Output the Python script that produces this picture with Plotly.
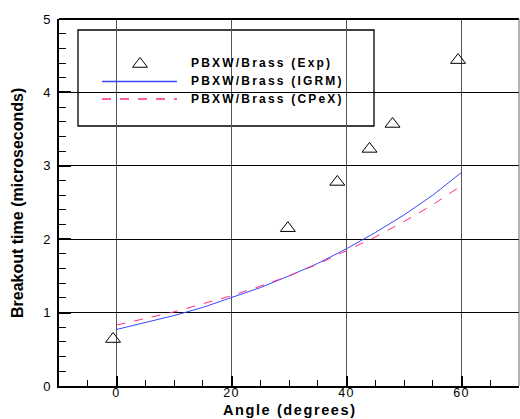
import plotly.graph_objects as go

# ---- data ----
exp_angle = [-0.6, 29.8, 38.4, 44.0, 48.0, 59.4]
exp_time = [0.64, 2.15, 2.78, 3.23, 3.57, 4.44]

model_angle = [0, 5, 10, 15, 20, 25, 30, 35, 40, 45, 50, 55, 60]
igrm_time = [0.77, 0.86, 0.96, 1.07, 1.20, 1.34, 1.50, 1.67, 1.87, 2.09, 2.33, 2.60, 2.91]
cpex_time = [0.83, 0.92, 1.01, 1.12, 1.23, 1.36, 1.50, 1.66, 1.84, 2.03, 2.24, 2.47, 2.73]

x_ticks = [0, 20, 40, 60]
y_ticks = [0, 1, 2, 3, 4, 5]

legend_labels = ["PBXW/Brass (Exp)", "PBXW/Brass (IGRM)", "PBXW/Brass (CPeX)"]
x_title = "Angle (degrees)"
y_title = "Breakout time (microseconds)"

# ---- layout constants ----
W, H = 520, 419
L, R, T, B = 59, 1, 19, 33
PW, PH = W - L - R, H - T - B
FONT = "Liberation Sans, Arial, sans-serif"
BLUE = "#3848ff"
PINK = "#ff2a8a"


def px(x):
    return (x - L) / PW


def py(y):
    return (H - B - y) / PH


def spaced(s, sp):
    return '<span style="letter-spacing:%spx">%s</span>' % (sp, s)


fig = go.Figure()

fig.add_trace(go.Scatter(x=model_angle, y=igrm_time, mode="lines",
                         line=dict(color=BLUE, width=1), name=legend_labels[1]))
fig.add_trace(go.Scatter(x=model_angle, y=cpex_time, mode="lines",
                         line=dict(color=PINK, width=1, dash="dash"), name=legend_labels[2]))
fig.add_trace(go.Scatter(x=exp_angle, y=exp_time, mode="markers",
                         marker=dict(symbol="triangle-up-open", size=13, color="black",
                                     line=dict(width=1, color="black")),
                         name=legend_labels[0]))

# legend glyph marker on a hidden pixel-space overlay axis
fig.add_trace(go.Scatter(x=[140], y=[64], mode="markers", xaxis="x2", yaxis="y2",
                         marker=dict(symbol="triangle-up-open", size=13, color="black",
                                     line=dict(width=1, color="black")),
                         showlegend=False, hoverinfo="skip"))

axis_font = dict(family=FONT, size=13, color="black")
xaxis_font = dict(family=FONT, size=12.5, color="black")
title_font = dict(family=FONT, size=14.5, color="black", weight="bold")
ytitle_font = dict(family=FONT, size=16, color="black", weight="bold")

fig.update_layout(
    width=W, height=H,
    margin=dict(l=L, r=R, t=T, b=B, autoexpand=False),
    paper_bgcolor="white", plot_bgcolor="white",
    showlegend=False,
    xaxis=dict(range=[-10, 70], tickmode="array", tickvals=x_ticks,
               ticktext=[spaced(str(v), 1.4) for v in x_ticks],
               ticks="inside", ticklen=10, tickwidth=2,
               tickcolor="black", showline=True, linecolor="black", linewidth=2,
               showgrid=True, gridcolor="#555555", gridwidth=1.4, zeroline=False,
               tickfont=xaxis_font, ticklabelstandoff=-6, automargin=False,
               minor=dict(dtick=5, tick0=0, ticks="inside", ticklen=6, tickwidth=1,
                          tickcolor="black", showgrid=False)),
    yaxis=dict(range=[0, 5], tickmode="array", tickvals=y_ticks,
               ticks="inside", ticklen=12, tickwidth=2,
               tickcolor="black", showline=True, linecolor="black", linewidth=2,
               showgrid=True, gridcolor="black", gridwidth=1, zeroline=False,
               tickfont=axis_font, ticklabelstandoff=4, automargin=False,
               minor=dict(dtick=0.2, tick0=0, ticks="inside", ticklen=7, tickwidth=1,
                          tickcolor="black", showgrid=False)),
    xaxis2=dict(range=[L, W - R], overlaying="x", visible=False, fixedrange=True),
    yaxis2=dict(range=[H - B, T], overlaying="y", visible=False, fixedrange=True),
)

shapes = [
    # top and right frame
    dict(type="line", xref="paper", yref="paper", x0=0, x1=1, y0=1, y1=1,
         line=dict(color="black", width=2)),
    dict(type="line", xref="paper", yref="paper", x0=1, x1=1, y0=0, y1=1,
         line=dict(color="#666666", width=1)),
    # legend box
    dict(type="rect", xref="paper", yref="paper", x0=px(78), x1=px(374), y0=py(126), y1=py(30),
         line=dict(color="black", width=1.3), fillcolor="white", layer="between"),
    dict(type="line", xref="paper", yref="paper", x0=px(102), x1=px(177), y0=py(81.5), y1=py(81.5),
         line=dict(color=BLUE, width=1.3), layer="above"),
    dict(type="line", xref="paper", yref="paper", x0=px(102), x1=px(177), y0=py(99), y1=py(99),
         line=dict(color=PINK, width=1.3, dash="dash"), layer="above"),
]
fig.update_layout(shapes=shapes)

for lab, yy in zip(legend_labels, [63, 81, 99]):
    fig.add_annotation(xref="paper", yref="paper", x=px(189), y=py(yy), xanchor="left",
                       yanchor="middle", showarrow=False, text=spaced(lab, 2.2),
                       font=dict(family=FONT, size=12, color="black", weight="bold"))

# axis titles
fig.add_annotation(xref="paper", yref="paper", x=px(290), y=py(410), xanchor="center",
                   yanchor="middle", showarrow=False, text=spaced(x_title, 1.6),
                   font=title_font)
fig.add_annotation(xref="paper", yref="paper", x=px(17), y=py(203), xanchor="center",
                   yanchor="middle", showarrow=False, text=y_title, textangle=-90,
                   font=ytitle_font)

fig.write_html("out.html", config=dict(displayModeBar=False),
               post_script="document.body.style.margin='0';document.body.style.overflow='hidden';")
